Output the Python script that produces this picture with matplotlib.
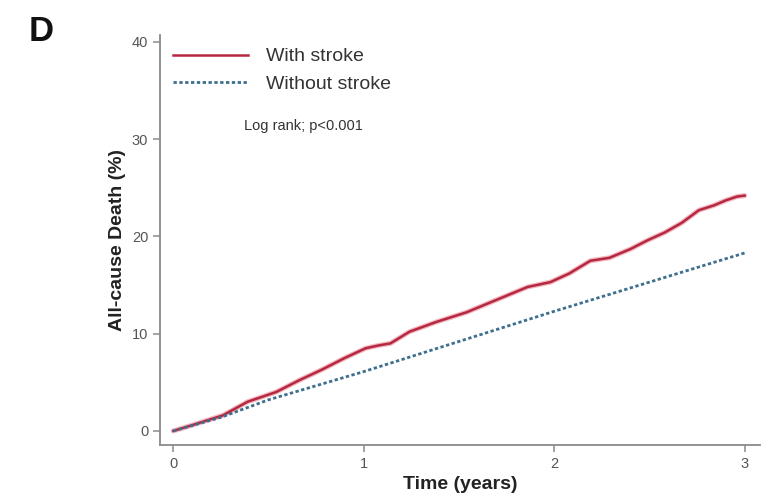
import matplotlib.pyplot as plt

plt.rcParams['font.family'] = ['Liberation Sans', 'DejaVu Sans']

# cumulative all-cause death (%) over follow-up
time_stroke = [0.0, 0.10, 0.26, 0.39, 0.54, 0.66, 0.78, 0.90, 1.01, 1.08, 1.14, 1.24,
               1.38, 1.54, 1.70, 1.86, 1.98, 2.08, 2.19, 2.29, 2.40, 2.49, 2.58, 2.67,
               2.76, 2.84, 2.90, 2.96, 3.0]
death_stroke = [0.0, 0.6, 1.6, 3.0, 4.0, 5.2, 6.3, 7.5, 8.5, 8.8, 9.0, 10.2,
                11.2, 12.2, 13.5, 14.8, 15.3, 16.2, 17.5, 17.8, 18.7, 19.6, 20.4, 21.4,
                22.7, 23.2, 23.7, 24.1, 24.2]

time_nostroke = [0.0, 0.25, 0.5, 1.0, 1.5, 2.0, 2.5, 3.0]
death_nostroke = [0.0, 1.4, 3.2, 6.1, 9.2, 12.3, 15.3, 18.3]

xticks = [0, 1, 2, 3]
yticks = [0, 10, 20, 30, 40]

fig = plt.figure(figsize=(7.81, 4.98), dpi=100)
ax = fig.add_axes([0.2049, 0.1064, 0.768, 0.823])

ax.plot(time_stroke, death_stroke, color='#f2b7c0', lw=3.6, solid_capstyle='round')
ax.plot(time_stroke, death_stroke, color='#b5283f', lw=1.8, label='With stroke')
ax.plot(time_nostroke, death_nostroke, color='#3f6f8e', lw=2.0, ls=(0, (1.2, 0.9)),
        label='Without stroke')

ax.set_xlim(-0.07, 3.08)
ax.set_ylim(-1.45, 40.7)
ax.set_xticks(xticks)
ax.set_yticks(yticks)

for side in ['top', 'right']:
    ax.spines[side].set_visible(False)
for side in ['left', 'bottom']:
    ax.spines[side].set_color('#8a8a8a')
    ax.spines[side].set_linewidth(1.3)
ax.tick_params(colors='#8a8a8a', labelcolor='#555555', labelsize=10.5, length=5, width=1.1)

ax.set_xlabel('Time (years)', fontsize=14, fontweight='bold', color='#222222', labelpad=4)
ax.set_ylabel('All-cause Death (%)', fontsize=14, fontweight='bold', color='#222222',
              labelpad=4)

leg = ax.legend(loc='upper left', bbox_to_anchor=(0.0, 1.0), frameon=False, fontsize=14,
                handlelength=3.9, handletextpad=0.9, labelspacing=0.5, borderaxespad=0.25)
for t in leg.get_texts():
    t.set_color('#333333')

ax.text(0.14, 0.778, 'Log rank; p<0.001', transform=ax.transAxes, fontsize=10.5,
        color='#333333', va='center')

fig.text(0.037, 0.937, 'D', fontsize=25, fontweight='bold', color='#111111', va='center')

fig.savefig('out.png', dpi=100)
